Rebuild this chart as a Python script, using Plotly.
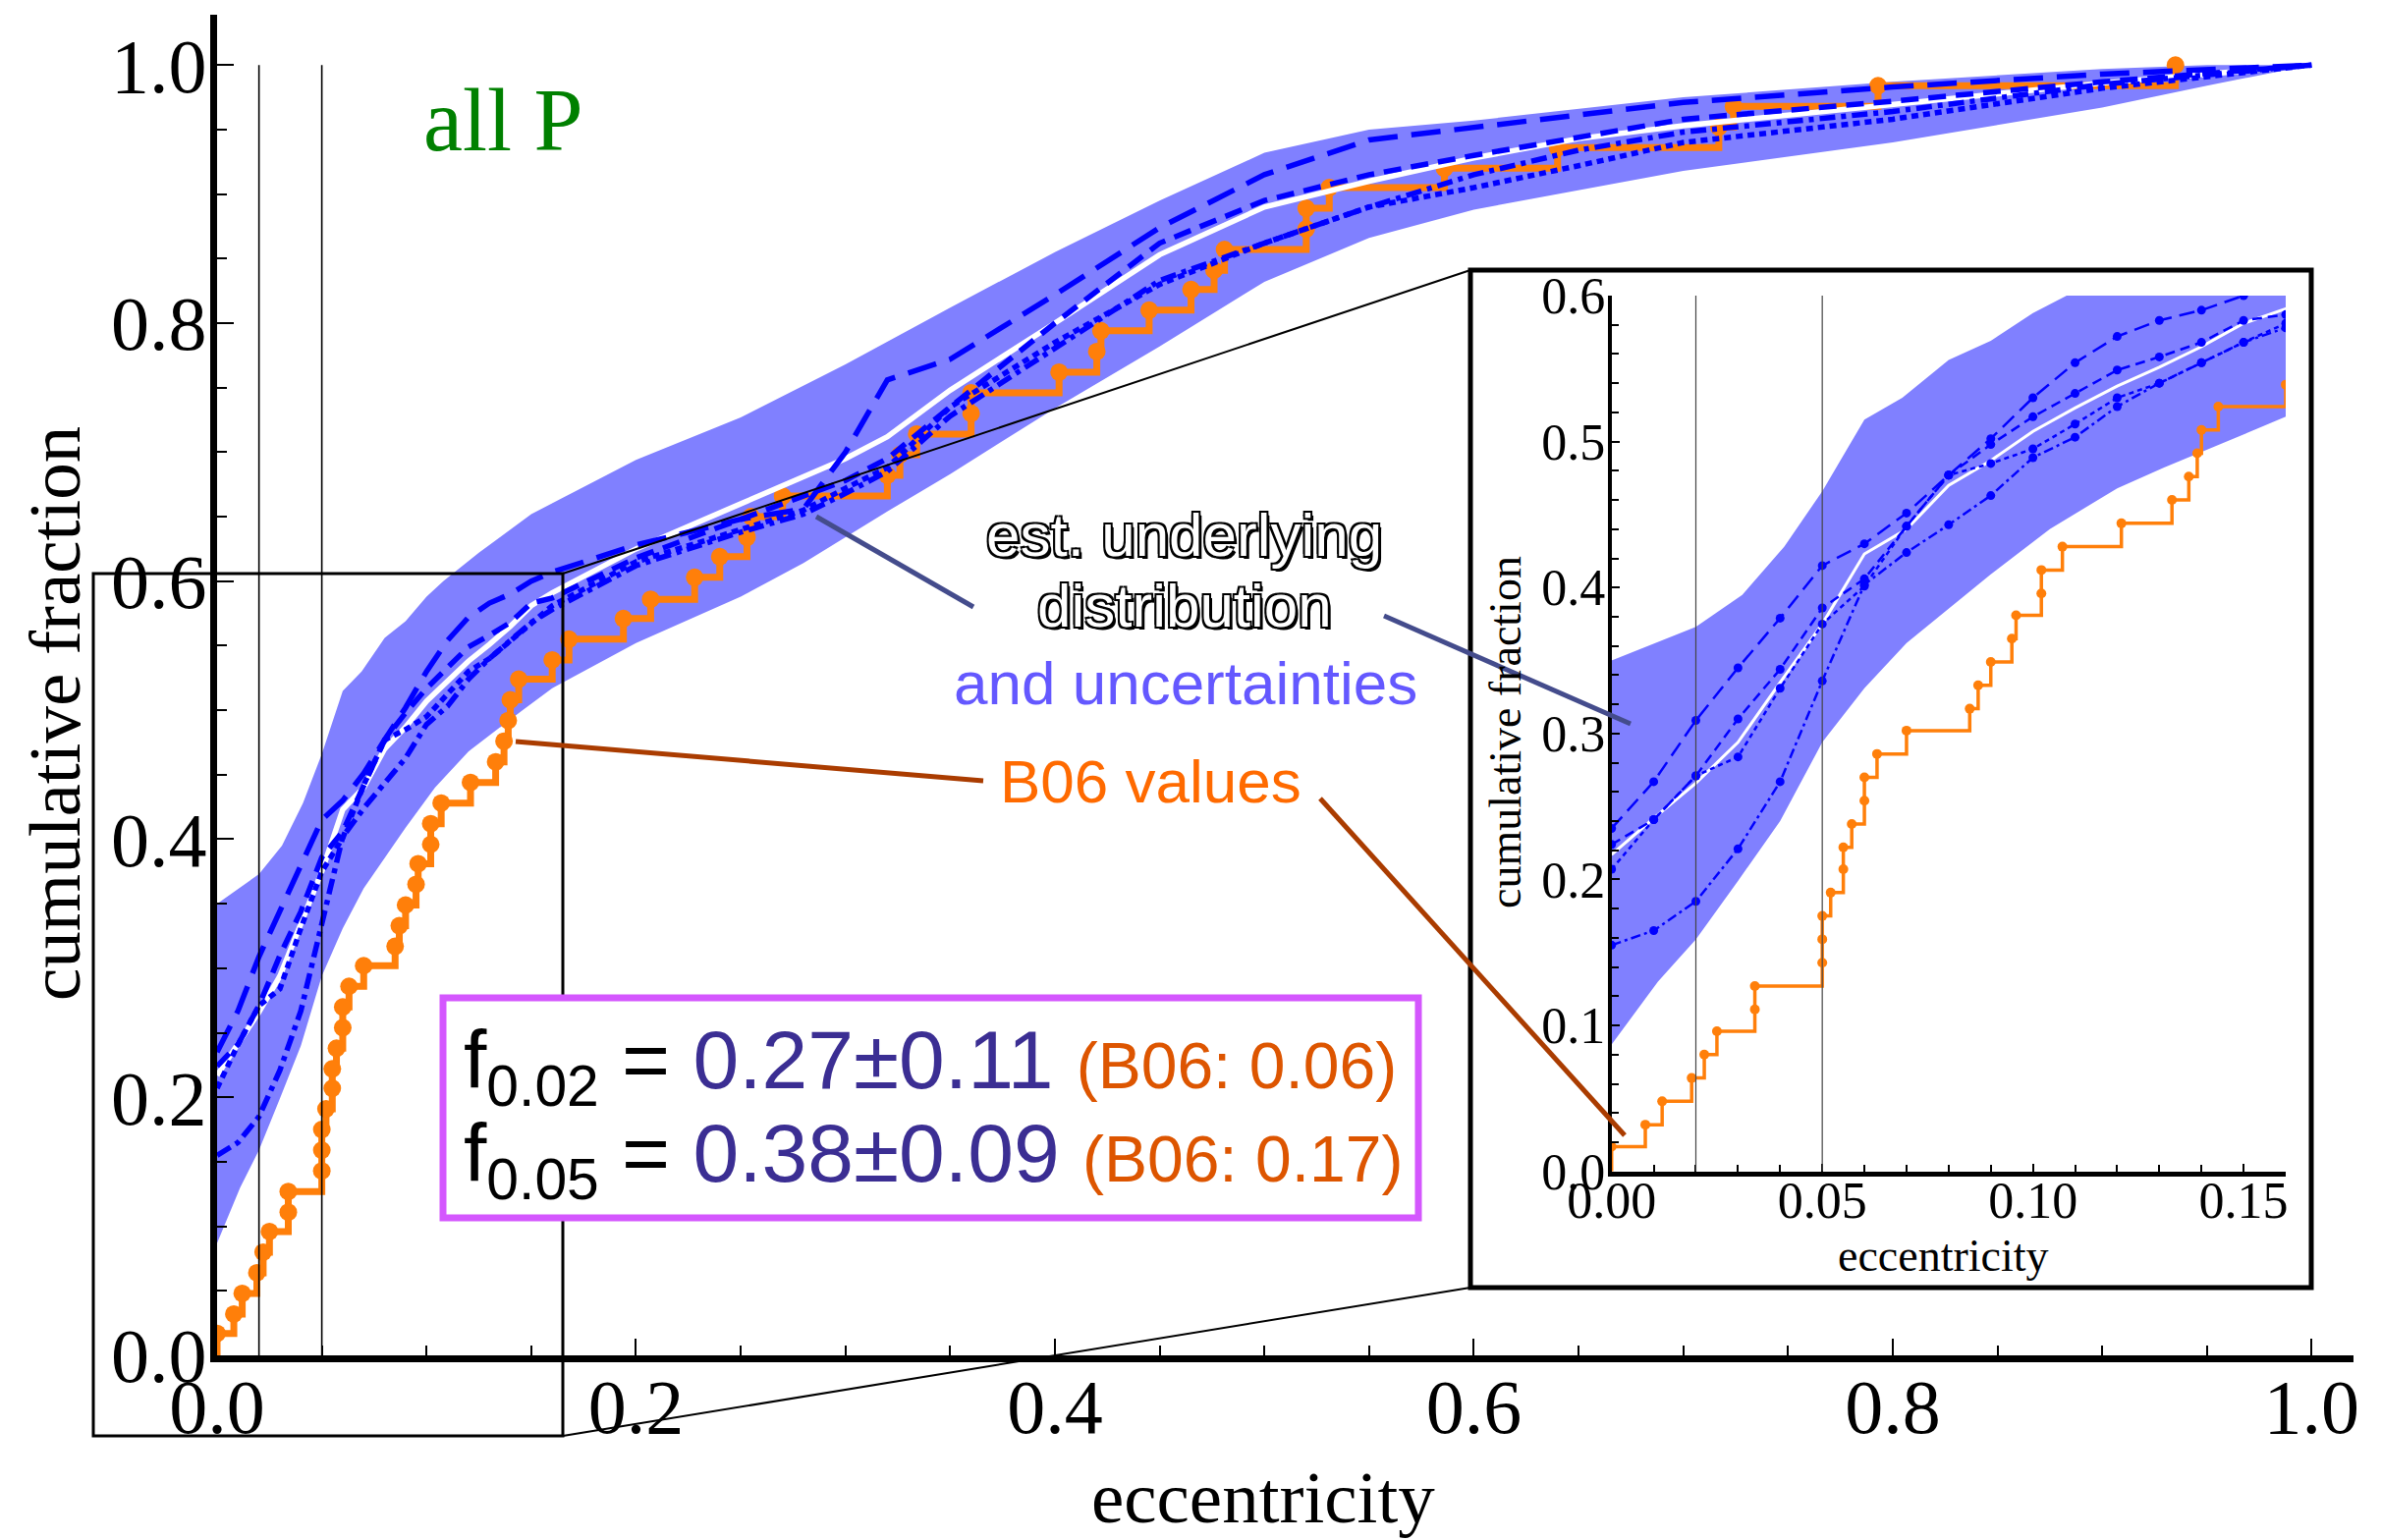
import plotly.graph_objects as go

# ---------------- data ----------------
# common grid of the estimated-distribution curves
XG = [0.0, 0.01, 0.02, 0.03, 0.04, 0.05, 0.06, 0.07, 0.08, 0.09, 0.10, 0.11, 0.12, 0.13, 0.14,
      0.15, 0.16, 0.20, 0.25, 0.28, 0.30, 0.32, 0.35, 0.40, 0.45, 0.50, 0.55, 0.60, 0.65, 0.70,
      0.80, 0.90, 1.00]
CURVE_A = [0.235, 0.267, 0.309, 0.345, 0.379, 0.415, 0.430, 0.451, 0.477, 0.502, 0.530, 0.554,
           0.572, 0.583, 0.590, 0.600, 0.607, 0.628, 0.648, 0.656, 0.700, 0.756, 0.772, 0.822,
           0.874, 0.915, 0.942, 0.952, 0.962, 0.971, 0.983, 0.993, 1.000]
CURVE_B = [0.224, 0.241, 0.271, 0.310, 0.344, 0.386, 0.406, 0.442, 0.477, 0.498, 0.517, 0.533,
           0.549, 0.558, 0.568, 0.583, 0.587, 0.618, 0.648, 0.665, 0.678, 0.695, 0.735, 0.800,
           0.862, 0.895, 0.915, 0.930, 0.944, 0.958, 0.972, 0.987, 1.000]
CURVE_C = [0.207, 0.241, 0.271, 0.284, 0.331, 0.375, 0.401, 0.442, 0.477, 0.485, 0.495, 0.512,
           0.530, 0.540, 0.554, 0.568, 0.581, 0.615, 0.640, 0.655, 0.672, 0.688, 0.735, 0.785,
           0.830, 0.862, 0.890, 0.905, 0.922, 0.940, 0.958, 0.982, 1.000]
CURVE_D = [0.155, 0.165, 0.185, 0.221, 0.267, 0.336, 0.402, 0.424, 0.443, 0.463, 0.489, 0.503,
           0.524, 0.540, 0.554, 0.568, 0.578, 0.612, 0.638, 0.652, 0.668, 0.685, 0.728, 0.780,
           0.833, 0.862, 0.890, 0.915, 0.934, 0.948, 0.964, 0.985, 1.000]
CURVE_W = [0.217, 0.242, 0.266, 0.294, 0.335, 0.375, 0.423, 0.440, 0.470, 0.487, 0.507, 0.523,
           0.538, 0.551, 0.565, 0.581, 0.591, 0.625, 0.660, 0.680, 0.695, 0.712, 0.748, 0.800,
           0.853, 0.890, 0.910, 0.928, 0.943, 0.953, 0.970, 0.986, 1.000]

# uncertainty band
BAND_UP_X = [0.0, 0.02, 0.031, 0.041, 0.05, 0.06, 0.069, 0.08, 0.09, 0.10, 0.108, 0.125, 0.15,
             0.20, 0.25, 0.30, 0.35, 0.40, 0.45, 0.50, 0.55, 0.60, 0.70, 0.80, 0.90, 0.95, 1.0]
BAND_UP_Y = [0.350, 0.373, 0.395, 0.428, 0.466, 0.515, 0.530, 0.556, 0.569, 0.588, 0.600, 0.622,
             0.652, 0.694, 0.727, 0.768, 0.812, 0.855, 0.895, 0.932, 0.950, 0.957, 0.975, 0.987,
             0.997, 1.0, 1.0]
BAND_LO_X = [0.0, 0.011, 0.02, 0.03, 0.04, 0.05, 0.06, 0.07, 0.09, 0.104, 0.12, 0.131, 0.145,
             0.16, 0.20, 0.25, 0.28, 0.32, 0.35, 0.40, 0.45, 0.50, 0.55, 0.60, 0.70, 0.80, 0.90,
             0.95, 1.0]
BAND_LO_Y = [0.087, 0.130, 0.159, 0.199, 0.240, 0.294, 0.331, 0.362, 0.409, 0.440, 0.468, 0.482,
             0.499, 0.517, 0.552, 0.588, 0.614, 0.654, 0.683, 0.734, 0.782, 0.832, 0.866, 0.888,
             0.918, 0.940, 0.967, 0.984, 1.0]

# B06 values (eccentricity of each point, cumulative fraction)
B06_E = [0.000, 0.008, 0.012, 0.019, 0.022, 0.025, 0.034, 0.034, 0.050, 0.050, 0.050, 0.052,
         0.055, 0.055, 0.057, 0.060, 0.060, 0.063, 0.070, 0.085, 0.087, 0.090, 0.095, 0.096,
         0.102, 0.102, 0.107, 0.121, 0.133, 0.137, 0.139, 0.140, 0.144, 0.160, 0.168, 0.194,
         0.207, 0.228, 0.240, 0.253, 0.255, 0.270, 0.320, 0.326, 0.334, 0.360, 0.360, 0.402,
         0.420, 0.422, 0.445, 0.465, 0.476, 0.481, 0.520, 0.520, 0.531, 0.586, 0.640, 0.717,
         0.724, 0.793, 0.935]
B06_F = [0.017, 0.032, 0.048, 0.064, 0.080, 0.096, 0.111, 0.127, 0.143, 0.159, 0.175, 0.191,
         0.207, 0.222, 0.238, 0.254, 0.270, 0.286, 0.302, 0.317, 0.333, 0.349, 0.365, 0.381,
         0.396, 0.412, 0.428, 0.444, 0.460, 0.476, 0.492, 0.508, 0.524, 0.539, 0.555, 0.571,
         0.586, 0.603, 0.619, 0.634, 0.650, 0.666, 0.682, 0.698, 0.714, 0.730, 0.746, 0.762,
         0.778, 0.794, 0.810, 0.826, 0.841, 0.857, 0.873, 0.889, 0.905, 0.920, 0.936, 0.952,
         0.968, 0.984, 1.000]

MAIN_TICKS = [0.0, 0.2, 0.4, 0.6, 0.8, 1.0]
MARK_E = [0.02, 0.05]

# ---------------- styles ----------------
BAND_COLOR = "#8080FF"
BLUE = "#0000FF"
ORANGE = "#FF7F0A"
SERIF = "Liberation Serif"
SANS = "Liberation Sans"

main_dash = {"A": "30px,14px", "B": "18px,10px", "C": "7px,5px", "D": "16px,6px,5px,6px"}
inset_dash = {"A": "16px,8px", "B": "10px,6px", "C": "5px,4px", "D": "10px,4px,3px,4px"}
curves = {"A": CURVE_A, "B": CURVE_B, "C": CURVE_C, "D": CURVE_D}

fig = go.Figure()

band_x = BAND_UP_X + BAND_LO_X[::-1]
band_y = BAND_UP_Y + BAND_LO_Y[::-1]
step_x = [0.0] + B06_E
step_y = [0.0] + B06_F

for ax, ay, inset in (("x", "y", False), ("x2", "y2", True)):
    fig.add_trace(go.Scatter(x=band_x, y=band_y, fill="toself", fillcolor=BAND_COLOR,
                             mode="lines", line=dict(width=0), xaxis=ax, yaxis=ay,
                             hoverinfo="skip", showlegend=False))
    fig.add_trace(go.Scatter(x=step_x, y=step_y, mode="lines", line_shape="hv",
                             line=dict(color=ORANGE, width=3.5 if inset else 7),
                             xaxis=ax, yaxis=ay, showlegend=False, hoverinfo="skip"))
    fig.add_trace(go.Scatter(x=B06_E, y=B06_F, mode="markers",
                             marker=dict(color=ORANGE, size=10 if inset else 18),
                             xaxis=ax, yaxis=ay, showlegend=False))
    fig.add_trace(go.Scatter(x=XG, y=CURVE_W, mode="lines",
                             line=dict(color="white", width=3 if inset else 5.5),
                             xaxis=ax, yaxis=ay, showlegend=False))
    for key, vals in curves.items():
        fig.add_trace(go.Scatter(
            x=XG, y=vals, mode="lines+markers" if inset else "lines",
            line=dict(color=BLUE, width=2.5 if inset else 5.5,
                      dash=inset_dash[key] if inset else main_dash[key]),
            marker=dict(color=BLUE, size=9),
            xaxis=ax, yaxis=ay, showlegend=False))

# ---------------- geometry helpers (pixel -> paper) ----------------
L, R, T, B = 221, 28, 15, 188
W, H = 2424, 1568
PW, PH = W - L - R, H - T - B


def px(X):
    return (X - L) / PW


def py(Y):
    return (H - B - Y) / PH


shapes = []
# inset frame (white, under the inset traces)
shapes.append(dict(type="rect", xref="paper", yref="paper", x0=px(1497), x1=px(2353),
                   y0=py(1311), y1=py(275), fillcolor="white",
                   line=dict(color="black", width=5), layer="below"))
# vertical marker lines
for e in MARK_E:
    shapes.append(dict(type="line", xref="x", yref="y", x0=e, x1=e, y0=0, y1=1.0,
                       line=dict(color="black", width=1.6), layer="above"))
    shapes.append(dict(type="line", xref="x2", yref="y2", x0=e, x1=e, y0=0, y1=0.6,
                       line=dict(color="#444444", width=1.2), layer="above"))
# zoom rectangle and connectors
shapes.append(dict(type="rect", xref="paper", yref="paper", x0=px(95), x1=px(573),
                   y0=py(1462), y1=py(584), line=dict(color="black", width=3), layer="above"))
shapes.append(dict(type="line", xref="paper", yref="paper", x0=px(573), y0=py(584),
                   x1=px(1497), y1=py(275), line=dict(color="black", width=2), layer="above"))
shapes.append(dict(type="line", xref="paper", yref="paper", x0=px(573), y0=py(1462),
                   x1=px(1497), y1=py(1311), line=dict(color="black", width=2), layer="above"))
# result box
shapes.append(dict(type="rect", xref="paper", yref="paper", x0=px(451), x1=px(1444),
                   y0=py(1240), y1=py(1016), fillcolor="white",
                   line=dict(color="#D457FE", width=7), layer="above"))
# leader lines
LEAD_BLUE = "#444C8C"
LEAD_BROWN = "#AA3C00"
for (x0, y0, x1, y1, c) in [(831, 526, 991, 618, LEAD_BLUE), (1409, 627, 1660, 737, LEAD_BLUE),
                            (525, 755, 1001, 795, LEAD_BROWN), (1344, 813, 1654, 1156, LEAD_BROWN)]:
    shapes.append(dict(type="line", xref="paper", yref="paper", x0=px(x0), y0=py(y0),
                       x1=px(x1), y1=py(y1), line=dict(color=c, width=5), layer="above"))

outline = ("-2px -2px 0 #000, 2px -2px 0 #000, -2px 2px 0 #000, "
           "2px 2px 0 #000, 3px 3px 0 #000")


def ann(text, X, Y, size, color, family=SANS, angle=0, xanchor="center", shadow=None):
    f = dict(family=family, size=size, color=color)
    if shadow:
        f["shadow"] = shadow
    return dict(text=text, x=px(X), y=py(Y), xref="paper", yref="paper", showarrow=False,
                xanchor=xanchor, yanchor="middle", textangle=angle, font=f)


annotations = [
    ann("all P", 512, 122, 90, "#008000", family=SERIF),
    ann("est. underlying", 1205, 545, 62, "white", shadow=outline),
    ann("distribution", 1206, 616, 62, "white", shadow=outline),
    ann("and uncertainties", 1207, 695, 62, "#6458FF"),
    ann("B06 values", 1171, 795, 62, "#FF6A00"),
    ann("eccentricity", 1286, 1524, 75, "black", family=SERIF),
    ann("cumulative fraction", 56, 727, 75, "black", family=SERIF, angle=-90),
    ann("eccentricity", 1978, 1278, 46, "black", family=SERIF),
    ann("cumulative fraction", 1532, 746, 46, "black", family=SERIF, angle=-90),
    ann('f<sub>0.02</sub> = <span style="color:#3B2E93">0.27±0.11</span> '
        '<span style="color:#DD5500;font-size:66px">(B06: 0.06)</span>',
        470, 1085, 84, "black", xanchor="left"),
    ann('f<sub>0.05</sub> = <span style="color:#3B2E93">0.38±0.09</span> '
        '<span style="color:#DD5500;font-size:66px">(B06: 0.17)</span>',
        470, 1180, 84, "black", xanchor="left"),
]

axis_common = dict(showline=True, linecolor="black", ticks="inside", tickcolor="black",
                   showgrid=False, zeroline=False, automargin=False)

fig.update_layout(
    width=W, height=H,
    margin=dict(l=L, r=R, t=T, b=B, autoexpand=False),
    paper_bgcolor="white", plot_bgcolor="white",
    showlegend=False,
    xaxis=dict(domain=[0, 1], range=[0, 1.02], linewidth=7, ticklen=17, tickwidth=2,
               tickvals=MAIN_TICKS, tickformat=".1f", ticklabelstandoff=-22,
               tickfont=dict(family=SERIF, size=78, color="black"),
               minor=dict(dtick=0.05, tick0=0, ticks="inside", ticklen=10, tickwidth=2,
                          tickcolor="black"),
               anchor="y", **axis_common),
    yaxis=dict(domain=[0, 1], range=[0, 1.039], linewidth=7, ticklen=17, tickwidth=2,
               tickvals=MAIN_TICKS, tickformat=".1f", ticklabelstandoff=-12,
               tickfont=dict(family=SERIF, size=78, color="black"),
               minor=dict(dtick=0.05, tick0=0, ticks="inside", ticklen=10, tickwidth=2,
                          tickcolor="black"),
               anchor="x", **axis_common),
    xaxis2=dict(domain=[px(1640.7), px(2327)], range=[0, 0.16], linewidth=5, ticklen=8,
                tickwidth=1.5, dtick=0.05, tick0=0, tickformat=".2f", ticklabelstandoff=-20,
                tickfont=dict(family=SERIF, size=52, color="black"),
                minor=dict(dtick=0.01, tick0=0, ticks="inside", ticklen=7, tickwidth=1.5,
                           tickcolor="black"),
                anchor="y2", **axis_common),
    yaxis2=dict(domain=[py(1192.7), py(301)], range=[0, 0.6], linewidth=4, ticklen=8,
                tickwidth=1.5, dtick=0.1, tick0=0, tickformat=".1f", ticklabelstandoff=-8,
                tickfont=dict(family=SERIF, size=52, color="black"),
                minor=dict(dtick=0.02, tick0=0, ticks="inside", ticklen=7, tickwidth=1.5,
                           tickcolor="black"),
                anchor="x2", **axis_common),
    shapes=shapes,
    annotations=annotations,
)

fig.write_html("out.html")
